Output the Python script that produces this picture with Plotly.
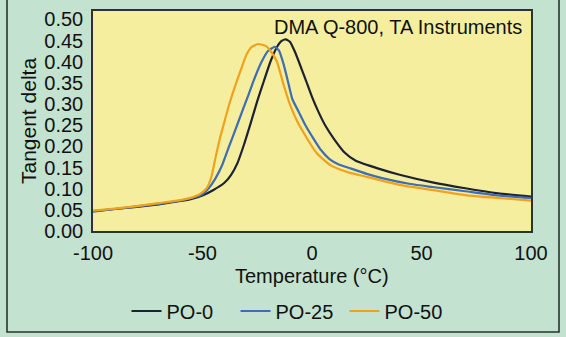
import plotly.graph_objects as go

# Dynamic mechanical analysis: tan delta vs temperature for three blends
temp_po0 = [-100, -90, -80, -70, -60, -55, -50, -45, -40, -37, -34, -31, -28, -25, -22,
            -19, -16, -14, -12, -10, -8, -6, -3, 0, 3, 6, 10, 15, 20, 30, 40, 55, 70, 85, 100]
tan_po0 = [0.047, 0.052, 0.057, 0.063, 0.071, 0.076, 0.084, 0.097, 0.114, 0.132, 0.161, 0.205,
           0.255, 0.307, 0.354, 0.400, 0.435, 0.449, 0.453, 0.447, 0.426, 0.400, 0.359, 0.317,
           0.281, 0.250, 0.218, 0.185, 0.166, 0.148, 0.133, 0.115, 0.101, 0.089, 0.081]

temp_po25 = [-100, -90, -80, -70, -60, -55, -50, -47, -44, -41, -38, -35, -32, -29, -26, -23,
             -20, -17, -15, -13, -11, -9, -6, -3, 0, 4, 8, 12, 17, 25, 32, 45, 55, 70, 85, 100]
tan_po25 = [0.046, 0.052, 0.058, 0.064, 0.072, 0.078, 0.087, 0.102, 0.125, 0.156, 0.198, 0.239,
            0.281, 0.322, 0.364, 0.400, 0.426, 0.435, 0.426, 0.395, 0.354, 0.312, 0.281, 0.250,
            0.224, 0.192, 0.170, 0.158, 0.149, 0.135, 0.125, 0.111, 0.104, 0.094, 0.084, 0.078]

temp_po50 = [-100, -90, -80, -70, -60, -55, -52, -50, -48, -46, -44, -42, -40, -38, -36, -34,
             -32, -30, -27.5, -24.5, -21, -19, -16, -13, -10, -7, -4, -1, 2, 5, 9, 17, 25, 40,
             55, 70, 85, 100]
tan_po50 = [0.048, 0.053, 0.059, 0.066, 0.073, 0.079, 0.085, 0.092, 0.102, 0.127, 0.175, 0.220,
            0.258, 0.296, 0.329, 0.359, 0.388, 0.416, 0.435, 0.442, 0.437, 0.426, 0.400, 0.346,
            0.298, 0.262, 0.234, 0.208, 0.185, 0.170, 0.154, 0.138, 0.128, 0.109, 0.097, 0.085,
            0.078, 0.072]

series_names = ["PO-0", "PO-25", "PO-50"]
line_colors = ["#1c2233", "#3d6db3", "#f0a21e"]

x_ticks = [-100, -50, 0, 50, 100]
x_tick_text = ["-100", "-50", "0", "50", "100"]
y_ticks = [0.00, 0.05, 0.10, 0.15, 0.20, 0.25, 0.30, 0.35, 0.40, 0.45, 0.50]

W, H = 566, 337
L, R, T, B = 93, 35, 11, 106
FONT = "Liberation Sans, Arial, sans-serif"
FS = 20

fig = go.Figure()
for name, xs, ys, col in zip(series_names,
                             [temp_po0, temp_po25, temp_po50],
                             [tan_po0, tan_po25, tan_po50],
                             line_colors):
    fig.add_trace(go.Scatter(x=xs, y=ys, mode="lines", name=name,
                             line=dict(color=col, width=2.2, shape="spline", smoothing=0.5)))

# outer frame around the whole figure, given in pixels and converted to paper units
pw, ph = W - L - R, H - T - B
def px_x(p):
    return (p - L) / pw
def px_y(p):
    return (H - B - p) / ph

fig.add_shape(type="rect", xref="paper", yref="paper",
              x0=px_x(7), x1=px_x(559), y0=px_y(332), y1=px_y(-2),
              line=dict(color="#2b3330", width=1.6), fillcolor="rgba(0,0,0,0)", layer="below")

fig.add_annotation(text="DMA Q-800, TA Instruments", xref="paper", yref="paper",
                   x=px_x(524), y=px_y(27), xanchor="right", yanchor="middle",
                   showarrow=False, font=dict(family=FONT, size=FS, color="#111"))

# x-axis title placed as a free label just under the tick labels
fig.add_annotation(text="Temperature (°C)", xref="paper", yref="paper",
                   x=0.5, y=px_y(276), xanchor="center", yanchor="middle",
                   showarrow=False, font=dict(family=FONT, size=FS, color="#111"))

fig.update_layout(
    width=W, height=H,
    margin=dict(l=L, r=R, t=T, b=B, autoexpand=False),
    paper_bgcolor="#c3e2cf",
    plot_bgcolor="#f5ee9e",
    font=dict(family=FONT, size=FS, color="#111"),
    showlegend=True,
    legend=dict(orientation="h", x=px_x(290), xanchor="center", y=px_y(311), yanchor="middle",
                bgcolor="rgba(0,0,0,0)", font=dict(size=FS), entrywidth=64,
                entrywidthmode="pixels"),
    xaxis=dict(range=[-100, 100], tickvals=x_ticks, ticktext=x_tick_text, ticks="",
               showgrid=False, zeroline=False, automargin=False,
               showline=True, linecolor="#2b3330", linewidth=1.5, mirror=True,
               ticklabelstandoff=3),
    yaxis=dict(range=[0, 0.52], tickvals=y_ticks, tickformat=".2f", ticks="", showgrid=False,
               zeroline=False, showline=True, linecolor="#2b3330", linewidth=1.5, mirror=True,
               automargin=False, ticklabelstandoff=4,
               title=dict(text="Tangent delta", standoff=2, font=dict(size=21))),
)

fig.write_html("out.html")
